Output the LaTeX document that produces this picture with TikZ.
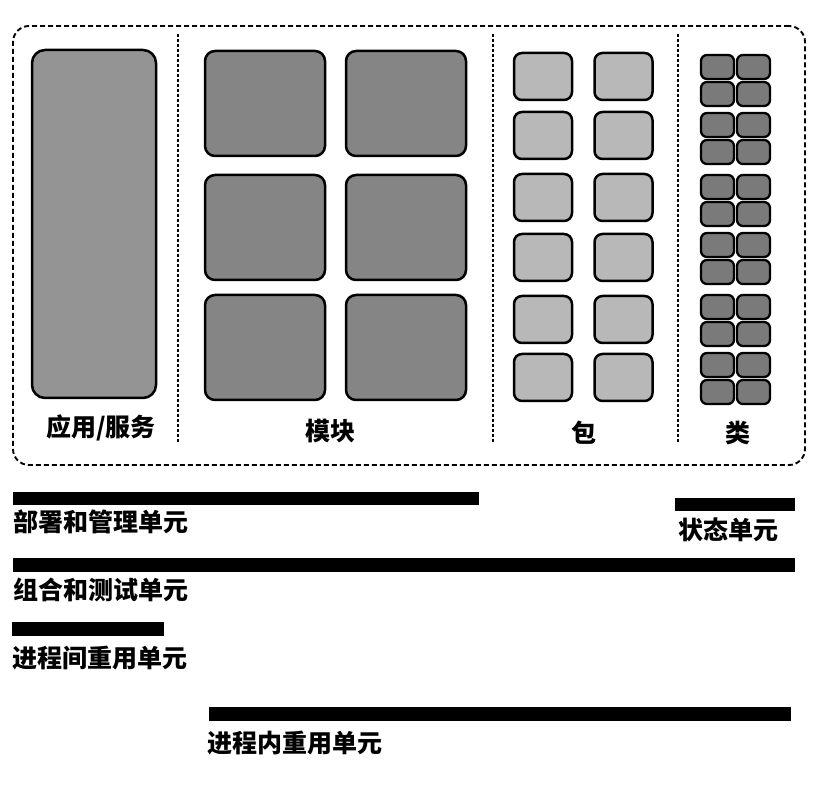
\documentclass[tikz,border=0pt]{standalone}
\usepackage{fontspec}
\newfontfamily\cjk{Noto Sans CJK SC}
\definecolor{appfill}{gray}{0.58}
\definecolor{modfill}{gray}{0.52}
\definecolor{pkgfill}{gray}{0.72}
\definecolor{clsfill}{gray}{0.48}
\begin{document}
\begin{tikzpicture}[x=1pt,y=-1pt,
  box/.style={draw=black, line width=2.5pt, inner sep=0pt, outer sep=0pt},
  appbox/.style={box, fill=appfill, rounded corners=13pt, minimum width=124, minimum height=348},
  modbox/.style={box, fill=modfill, rounded corners=10pt, minimum width=120, minimum height=105},
  pkgbox/.style={box, fill=pkgfill, rounded corners=8pt, minimum width=58, minimum height=47},
  clsbox/.style={box, line width=2.3pt, fill=clsfill, rounded corners=6pt, minimum width=33, minimum height=24},
  frame/.style={draw=black, line width=1.9pt, dash pattern=on 5pt off 3pt, rounded corners=16pt, inner sep=0pt, minimum width=792, minimum height=439},
  sepline/.style={draw=black, line width=1.9pt, dash pattern=on 3pt off 2pt},
  bar/.style={fill=black, draw=none, inner sep=0pt, outer sep=0pt},
  lbl/.style={font=\cjk\bfseries\fontsize{25}{29}\selectfont, inner sep=0pt},
  barlbl/.style={lbl, anchor=west}
]
\useasboundingbox (0,0) rectangle (828,786);

% outer dashed frame
\node[frame] (frame) at (409,245.5) {};

% separators
\draw[sepline] (178,34) -- (178,442);
\draw[sepline] (493,34) -- (493,442);
\draw[sepline] (678,34) -- (678,442);

% application / service
\node[appbox] (app) at (94,224) {};

% modules
\node[modbox] (m11) at (265,103.5) {};
\node[modbox] (m12) at (406,103.5) {};
\node[modbox] (m21) at (265,227.5) {};
\node[modbox] (m22) at (406,227.5) {};
\node[modbox] (m31) at (265,347.5) {};
\node[modbox] (m32) at (406,347.5) {};

% packages
\foreach \y [count=\i] in {76.5,135.5,197.5,257.5,319.5,377.5}{
  \node[pkgbox] (p\i a) at (543,\y) {};
  \node[pkgbox] (p\i b) at (623.5,\y) {};
}

% classes
\foreach \t [count=\i] in {55,113,175,233,295,353}{
  \node[clsbox] (c\i aa) at (717.5,\t+12) {};
  \node[clsbox] (c\i ab) at (753.5,\t+12) {};
  \node[clsbox] (c\i ba) at (717.5,\t+39) {};
  \node[clsbox] (c\i bb) at (753.5,\t+39) {};
}

% column labels
\node[lbl] (lapp) at (101,428) {应用/服务};
\node[lbl] (lmod) at (330,431) {模块};
\node[lbl] (lpkg) at (584,433) {包};
\node[lbl] (lcls) at (738,433) {类};

% bars
\node[bar, minimum width=466, minimum height=13] (b1) at (246,498.5) {};
\node[bar, minimum width=120, minimum height=13] (b2) at (735,504.5) {};
\node[bar, minimum width=782, minimum height=14] (b3) at (404,565) {};
\node[bar, minimum width=152, minimum height=14] (b4) at (88,629) {};
\node[bar, minimum width=582, minimum height=14] (b5) at (500,714) {};

% bar labels
\node[barlbl] (t1) at (13,522) {部署和管理单元};
\node[barlbl] (t2) at (678,530) {状态单元};
\node[barlbl] (t3) at (13,590) {组合和测试单元};
\node[barlbl] (t4) at (12,658) {进程间重用单元};
\node[barlbl] (t5) at (207,743) {进程内重用单元};
\end{tikzpicture}
\end{document}
